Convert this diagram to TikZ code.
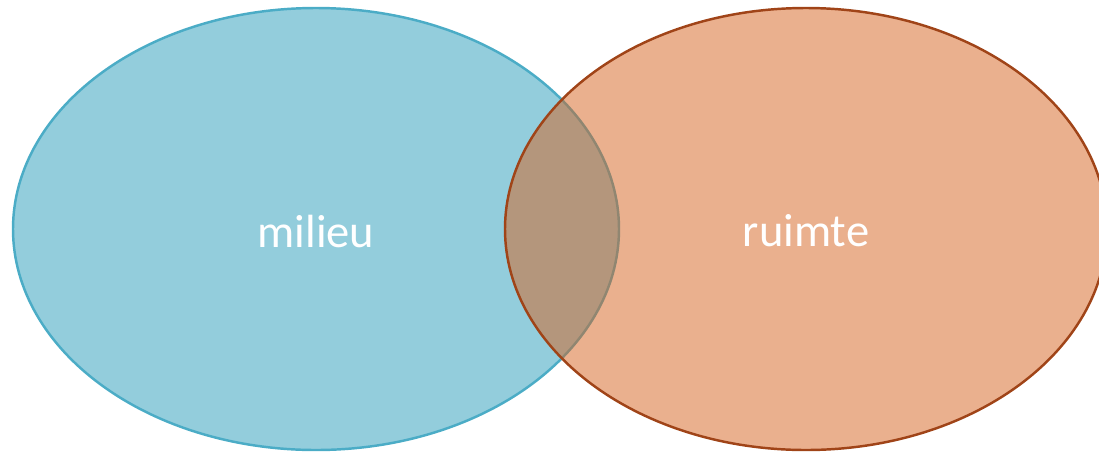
\documentclass[tikz,border=0pt]{standalone}
\usepackage{fontspec}
\setmainfont{Carlito}
\definecolor{milieufill}{RGB}{147,205,220}
\definecolor{milieuline}{RGB}{75,172,198}
\definecolor{ruimtefill}{RGB}{213,97,29}
\definecolor{ruimteline}{RGB}{160,68,24}
\begin{document}
\begin{tikzpicture}[x=0.02cm,y=-0.02cm]
        \useasboundingbox(0,0)rectangle(1099,451);
        \tikzset{label/.style={text=white,font=\fontsize{26.5}{30}\selectfont}}
        \draw [line width=1.4pt,draw=milieuline,fill=milieufill] (316,229) ellipse [x radius=303,y radius=221];
        \fill [ruimtefill,fill opacity=0.5] (806,229) ellipse [x radius=301,y radius=221];
        \draw [line width=1.4pt,draw=ruimteline] (806,229) ellipse [x radius=301,y radius=221];
        \node[label] (milieu) at (316,231) {milieu};
        \node[label] (ruimte) at (806,231) {ruimte};
    \end{tikzpicture}
\end{document}
